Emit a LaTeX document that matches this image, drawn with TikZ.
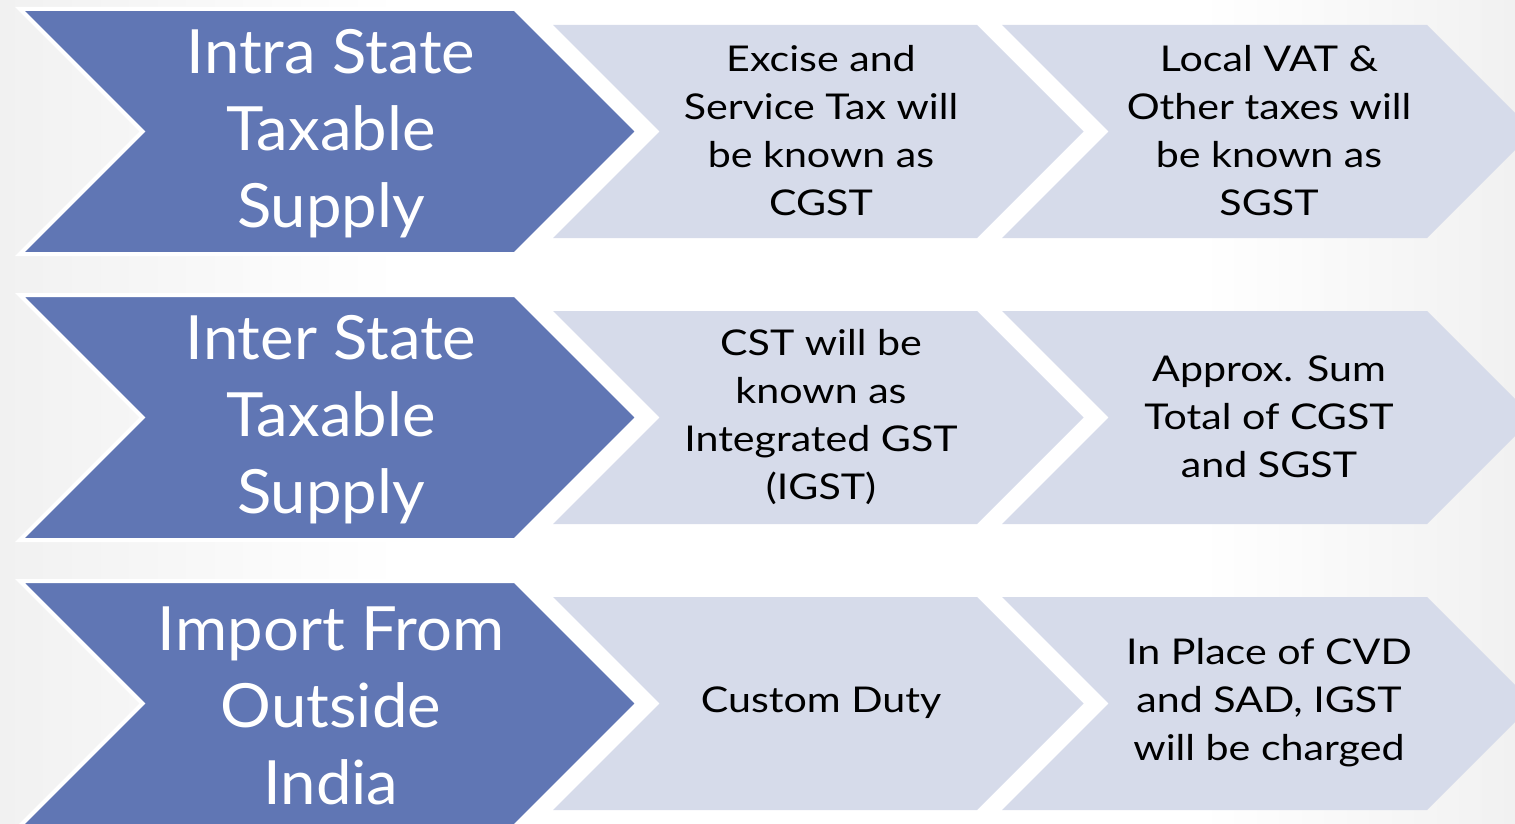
\documentclass[tikz,border=0pt]{standalone}
\usepackage{fontspec}
\setmainfont{Lato}
\newfontfamily\bigfont[FakeStretch=1.04]{Lato}
\newfontfamily\smallfont[FakeStretch=1.16]{Lato}
\definecolor{darkchev}{HTML}{6076B4}
\definecolor{lightchev}{HTML}{D6DBEA}
\definecolor{bggray}{HTML}{F1F1F1}
\newcommand{\chevshape}[5]{%
  \path[#1] (#2,#3) -- ++(#4,0) -- ++(#5/2,#5/2) -- ++(-#5/2,#5/2) -- ++(-#4,0) -- ++(#5/2,-#5/2) -- cycle;}
\tikzset{
  darkfill/.style={fill=darkchev, draw=white, line width=4pt, line join=miter},
  lightfill/.style={fill=lightchev},
  bigtext/.style={text=white, align=center, font=\bigfont\fontsize{61}{77}\selectfont, inner sep=0pt},
  smalltext/.style={text=black, align=center, font=\smallfont\fontsize{35.5}{48}\selectfont, inner sep=0pt}
}
\begin{document}
\begin{tikzpicture}[x=1pt,y=-1pt]
\useasboundingbox (0,0) rectangle (1515,824);
\clip (0,0) rectangle (1515,824);
\shade[left color=bggray, right color=white] (0,0) rectangle (400,824);
\shade[left color=white, right color=bggray] (1200,0) rectangle (1515,824);
% row 1
\chevshape{darkfill}{20}{9}{495}{245}
\chevshape{lightfill}{553}{25}{424}{213}
\chevshape{lightfill}{1002}{25}{425}{213}
% row 2
\chevshape{darkfill}{20}{295}{495}{245}
\chevshape{lightfill}{553}{311}{424}{213}
\chevshape{lightfill}{1002}{311}{425}{213}
% row 3
\chevshape{darkfill}{20}{581}{495}{245}
\chevshape{lightfill}{553}{597}{424}{213}
\chevshape{lightfill}{1002}{597}{425}{213}
% texts
\node[bigtext] (r1a) at (331,134) {Intra State\\Taxable\\Supply};
\node[smalltext] (r1b) at (821,131) {Excise and\\Service Tax will\\be known as\\CGST};
\node[smalltext] (r1c) at (1269,131) {Local VAT \&\\Other taxes will\\be known as\\SGST};
\node[bigtext] (r2a) at (331,420) {Inter State\\Taxable\\Supply};
\node[smalltext] (r2b) at (821,417) {CST will be\\known as\\Integrated GST\\(IGST)};
\node[smalltext] (r2c) at (1269,417) {Approx. Sum\\Total of CGST\\and SGST};
\node[bigtext] (r3a) at (331,706) {Import From\\Outside\\India};
\node[smalltext] (r3b) at (821,703) {Custom Duty};
\node[smalltext] (r3c) at (1269,703) {In Place of CVD\\and SAD, IGST\\will be charged};
\end{tikzpicture}
\end{document}
